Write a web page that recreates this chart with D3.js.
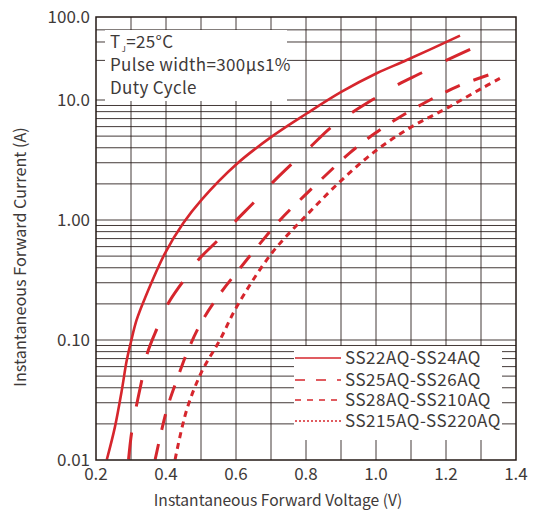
<!DOCTYPE html>
<html>
<head>
<meta charset="utf-8">
<script src="https://cdn.jsdelivr.net/npm/d3@7"></script>
<style>
  html, body { margin: 0; padding: 0; background: #ffffff; }
  svg { display: block; }
  text { font-family: "Noto Sans CJK SC", "Noto Sans", sans-serif; fill: #3e3a39; }
</style>
</head>
<body>
<script>
// ---------------- data ----------------
const xTickValues = [0.2, 0.4, 0.6, 0.8, 1.0, 1.2, 1.4];
const xTickLabels = ["0.2", "0.4", "0.6", "0.8", "1.0", "1.2", "1.4"];
const xGridValues = [0.3, 0.4, 0.5, 0.6, 0.7, 0.8, 0.9, 1.0, 1.1, 1.2, 1.3];

const yTickValues = [0.01, 0.1, 1, 10, 100];
const yTickLabels = ["0.01", "0.10", "1.00", "10.0", "100.0"];
const yGridValues = [
  0.02, 0.03, 0.04, 0.05, 0.06, 0.07, 0.08, 0.09, 0.1,
  0.2, 0.3, 0.4, 0.5, 0.6, 0.7, 0.8, 0.9, 1,
  2, 3, 4, 5, 6, 7, 8, 9, 10,
  30, 50, 70
];

const seriesNames = ["SS22AQ-SS24AQ", "SS25AQ-SS26AQ", "SS28AQ-SS210AQ", "SS215AQ-SS220AQ"];

const s1V = [0.231, 0.254, 0.273, 0.288, 0.300, 0.316, 0.340, 0.397, 0.449, 0.502, 0.602, 0.702, 0.802, 0.902, 1.002, 1.088, 1.240];
const s1I = [0.0101, 0.0188, 0.0371, 0.068, 0.0968, 0.147, 0.224, 0.527, 0.939, 1.48, 2.93, 4.95, 7.72, 12.6, 21, 30.3, 59.6];

const s2V = [0.293, 0.302, 0.316, 0.331, 0.347, 0.375, 0.407, 0.448, 0.492, 0.547, 0.597, 0.651, 0.702, 0.759, 0.813, 0.871, 0.931, 0.997, 1.061, 1.131, 1.197, 1.269];
const s2I = [0.0101, 0.0171, 0.0287, 0.0464, 0.078, 0.126, 0.203, 0.306, 0.464, 0.672, 0.968, 1.40, 2.02, 2.93, 4.08, 5.90, 7.84, 10.5, 15.2, 21.3, 29.5, 40.8];

const s3V = [0.369, 0.402, 0.432, 0.464, 0.502, 0.554, 0.609, 0.669, 0.726, 0.792, 0.857, 0.926, 0.997, 1.073, 1.154, 1.235, 1.321];
const s3I = [0.0101, 0.0261, 0.0473, 0.0836, 0.142, 0.242, 0.388, 0.639, 1.0, 1.56, 2.37, 3.64, 5.28, 7.36, 10.0, 14.7, 20.0];

const s4V = [0.426, 0.459, 0.502, 0.554, 0.602, 0.702, 0.802, 0.902, 1.002, 1.102, 1.202, 1.302, 1.354];
const s4I = [0.0101, 0.0261, 0.0544, 0.1, 0.189, 0.528, 1.10, 2.15, 3.83, 5.99, 8.53, 13.8, 18.2];

const noteLines = ["Pulse width=300\u00b5s1%", "Duty Cycle"];

// ---------------- layout ----------------
const W = 538, H = 514;
const plot = { left: 96, right: 516, top: 17, bottom: 460 };
const ink = "#231815";
const red = "#d6262d";

const svg = d3.select("body").append("svg").attr("width", W).attr("height", H);

const x = d3.scaleLinear().domain([0.2, 1.4]).range([plot.left, plot.right]);
const y = d3.scaleLog().domain([0.01, 10, 100]).range([plot.bottom, 100, plot.top]);

// grid
const grid = svg.append("g");
grid.selectAll("line.h").data(yGridValues).enter().append("line")
  .attr("x1", plot.left).attr("x2", plot.right)
  .attr("y1", d => y(d)).attr("y2", d => y(d))
  .attr("stroke", ink).attr("stroke-width", 1).attr("stroke-opacity", 0.85);
grid.selectAll("line.v").data(xGridValues).enter().append("line")
  .attr("y1", plot.top).attr("y2", plot.bottom)
  .attr("x1", d => x(d)).attr("x2", d => x(d))
  .attr("stroke", ink).attr("stroke-width", 1).attr("stroke-opacity", 0.85);

// curves
const line = d3.line().x(d => x(d[0])).y(d => y(d[1])).curve(d3.curveCatmullRom.alpha(0.5));
const series = [
  { v: s1V, i: s1I, dash: null, w: 2.6 },
  { v: s2V, i: s2I, dash: [27, 24], w: 3 },
  { v: s3V, i: s3I, dash: [16, 14], w: 3 },
  { v: s4V, i: s4I, dash: [6, 5], w: 3 }
];
series.forEach(s => {
  const pts = s.v.map((v, k) => [v, s.i[k]]);
  const p = svg.append("path").datum(pts)
    .attr("d", line)
    .attr("fill", "none")
    .attr("stroke", red)
    .attr("stroke-width", s.w)
    .attr("stroke-linecap", "butt");
  if (s.dash) {
    // fit the dash pattern so that the path starts and ends on a dash
    const L = p.node().getTotalLength();
    const on = s.dash[0], off = s.dash[1];
    const n = Math.max(2, Math.round((L + off) / (on + off)));
    const gap = (L - n * on) / (n - 1);
    p.attr("stroke-dasharray", on + "," + gap);
  }
});

// cover anything above the plot top
svg.append("rect").attr("x", 0).attr("y", 0).attr("width", W).attr("height", plot.top - 0.5).attr("fill", "#fff");

// note box (white)
svg.append("rect").attr("x", 105).attr("y", 30).attr("width", 182).attr("height", 71).attr("fill", "#fff");
const note = svg.append("g").attr("font-size", 17).attr("letter-spacing", 0.35);
const t1 = note.append("text").attr("x", 110).attr("y", 48);
t1.append("tspan").text("T");
t1.append("tspan").attr("font-size", 8).attr("dx", 1).attr("dy", 4).text("J");
t1.append("tspan").attr("dy", -4).text("=25\u00b0C");
noteLines.forEach((s, k) => {
  note.append("text").attr("x", 110).attr("y", 71 + k * 23).text(s);
});

// legend box
svg.append("rect").attr("x", 294).attr("y", 346).attr("width", 208).attr("height", 94).attr("fill", "#fff");
const legendDash = [null, "10,11", "6,6", "2,2"];
const legendY = [358, 380, 400, 421];
seriesNames.forEach((name, k) => {
  svg.append("line")
    .attr("x1", 295).attr("x2", 341)
    .attr("y1", legendY[k]).attr("y2", legendY[k])
    .attr("stroke", red).attr("stroke-width", 1.4)
    .attr("stroke-dasharray", legendDash[k]);
  svg.append("text").attr("x", 345).attr("y", legendY[k] + 6.3)
    .attr("font-size", 17).attr("letter-spacing", 0.55).text(name);
});

// frame
svg.append("rect")
  .attr("x", plot.left).attr("y", plot.top)
  .attr("width", plot.right - plot.left).attr("height", plot.bottom - plot.top)
  .attr("fill", "none").attr("stroke", ink).attr("stroke-width", 1.5);

// tick labels
svg.append("g").selectAll("text").data(xTickValues).enter().append("text")
  .attr("x", d => x(d)).attr("y", 480)
  .attr("text-anchor", "middle").attr("font-size", 17)
  .text((d, k) => xTickLabels[k]);
svg.append("g").selectAll("text").data(yTickValues).enter().append("text")
  .attr("x", 90).attr("y", d => y(d))
  .attr("dy", "0.36em")
  .attr("text-anchor", "end").attr("font-size", 17)
  .text((d, k) => yTickLabels[k]);

// axis titles
svg.append("text").attr("x", 278).attr("y", 506)
  .attr("text-anchor", "middle").attr("font-size", 15.6)
  .text("Instantaneous Forward Voltage (V)");
svg.append("text")
  .attr("transform", "translate(26," + 257 + ") rotate(-90)")
  .attr("text-anchor", "middle").attr("font-size", 16.2)
  .text("Instantaneous Forward Current (A)");
</script>
</body>
</html>
